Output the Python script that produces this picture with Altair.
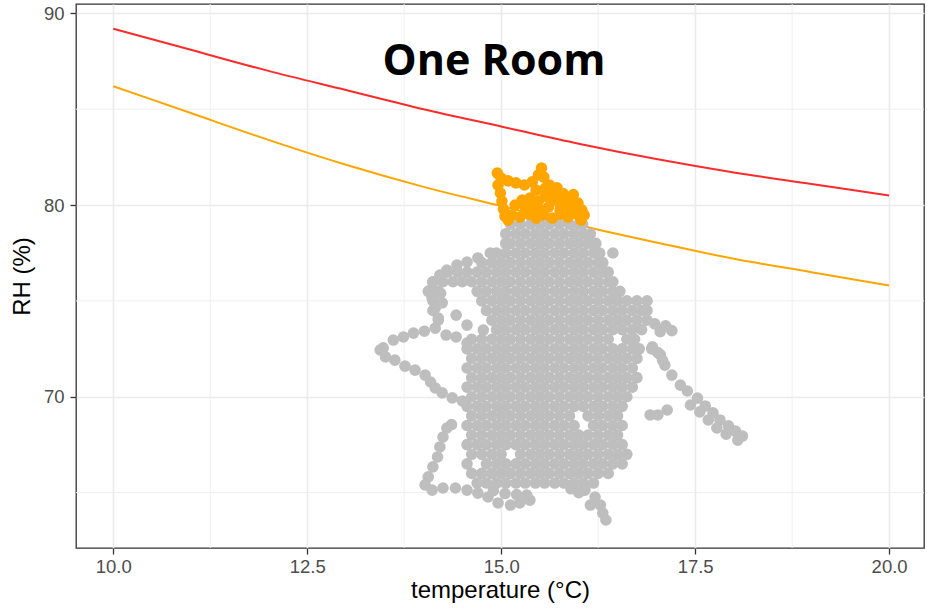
import altair as alt
import pandas as pd

# ---- reference curves ----
curve_temp = [10, 11, 12, 13, 14, 15, 16, 17, 18, 19, 20]
red_rh = [89.2, 88.1, 87.0, 86.0, 85.0, 84.1, 83.2, 82.4, 81.7, 81.1, 80.5]
orange_rh = [86.2, 84.8, 83.4, 82.1, 80.95, 79.95, 78.95, 78.05, 77.2, 76.5, 75.8]

# ---- grey cloud, read row by row ----
row_rh = [79.0, 78.5, 78.0, 77.5, 77.0, 76.5, 76.0, 75.5, 75.0, 74.5, 74.0, 73.5,
          73.0, 72.5, 72.0, 71.5, 71.0, 70.5, 70.0, 69.5, 69.0, 68.5, 68.0, 67.5,
          67.0, 66.5, 66.0, 65.5]
row_temps = [
    [15.12, 15.25, 15.38, 15.50, 15.62, 15.75, 15.88, 16.00, 16.05],
    [15.06, 15.19, 15.31, 15.44, 15.56, 15.69, 15.81, 15.94, 16.06, 16.15],
    [15.06, 15.12, 15.25, 15.38, 15.50, 15.62, 15.75, 15.88, 16.00, 16.12, 16.22],
    [14.94, 15.06, 15.19, 15.31, 15.44, 15.56, 15.69, 15.81, 15.94, 16.06, 16.19, 16.27, 16.44],
    [14.75, 14.88, 15.00, 15.12, 15.25, 15.38, 15.50, 15.62, 15.75, 15.88, 16.00, 16.12, 16.25, 16.31],
    [14.31, 14.44, 14.56, 14.69, 14.81, 14.94, 15.06, 15.19, 15.31, 15.44, 15.56, 15.69, 15.81, 15.94,
     16.06, 16.19, 16.31, 16.38],
    [14.12, 14.25, 14.38, 14.50, 14.62, 14.75, 14.88, 15.00, 15.12, 15.25, 15.38, 15.50, 15.62, 15.75,
     15.88, 16.00, 16.12, 16.25, 16.38, 16.44],
    [14.06, 14.19, 14.69, 14.81, 14.94, 15.06, 15.19, 15.31, 15.44, 15.56, 15.69, 15.81, 15.94, 16.06,
     16.19, 16.31, 16.44, 16.53],
    [14.12, 14.75, 14.88, 15.00, 15.12, 15.25, 15.38, 15.50, 15.62, 15.75, 15.88, 16.00, 16.12, 16.25,
     16.38, 16.50, 16.62, 16.75, 16.88],
    [14.12, 14.81, 14.94, 15.06, 15.19, 15.31, 15.44, 15.56, 15.69, 15.81, 15.94, 16.06, 16.19, 16.31,
     16.44, 16.56, 16.69, 16.81, 16.88],
    [14.19, 14.88, 15.00, 15.12, 15.25, 15.38, 15.50, 15.62, 15.75, 15.88, 16.00, 16.12, 16.25, 16.38,
     16.50, 16.62, 16.75, 16.88],
    [14.94, 15.06, 15.19, 15.31, 15.44, 15.56, 15.69, 15.81, 15.94, 16.06, 16.19, 16.31, 16.44, 16.56,
     16.69, 16.81],
    [14.62, 14.75, 14.88, 15.00, 15.12, 15.25, 15.38, 15.50, 15.62, 15.75, 15.88, 16.00, 16.12, 16.25,
     16.38, 16.62, 16.72],
    [14.56, 14.69, 14.81, 14.94, 15.06, 15.19, 15.31, 15.44, 15.56, 15.69, 15.81, 15.94, 16.06, 16.19,
     16.31, 16.44, 16.56, 16.69, 16.78],
    [14.62, 14.75, 14.88, 15.00, 15.12, 15.25, 15.38, 15.50, 15.62, 15.75, 15.88, 16.00, 16.12, 16.25,
     16.38, 16.50, 16.62, 16.75],
    [14.56, 14.69, 14.81, 14.94, 15.06, 15.19, 15.31, 15.44, 15.56, 15.69, 15.81, 15.94, 16.06, 16.19,
     16.31, 16.44, 16.56, 16.69],
    [14.62, 14.75, 14.88, 15.00, 15.12, 15.25, 15.38, 15.50, 15.62, 15.75, 15.88, 16.00, 16.12, 16.25,
     16.38, 16.50, 16.62, 16.75],
    [14.56, 14.69, 14.81, 14.94, 15.06, 15.19, 15.31, 15.44, 15.56, 15.69, 15.81, 15.94, 16.06, 16.19,
     16.31, 16.44, 16.56, 16.69],
    [14.62, 14.75, 14.88, 15.00, 15.12, 15.25, 15.38, 15.50, 15.62, 15.75, 15.88, 16.00, 16.12, 16.25,
     16.38, 16.50, 16.62],
    [14.56, 14.69, 14.81, 14.94, 15.06, 15.19, 15.31, 15.44, 15.56, 15.69, 15.81, 15.94, 16.06, 16.19,
     16.31, 16.44, 16.56],
    [14.62, 14.75, 14.88, 15.00, 15.12, 15.25, 15.38, 15.50, 15.62, 15.75, 15.88, 16.12, 16.25,
     16.38, 16.50],
    [14.56, 14.69, 14.81, 14.94, 15.06, 15.19, 15.31, 15.44, 15.56, 15.69, 15.81, 15.94, 16.19,
     16.31, 16.44, 16.56],
    [14.62, 14.75, 14.88, 15.00, 15.12, 15.25, 15.38, 15.50, 15.62, 15.75, 15.88, 16.00, 16.12, 16.25,
     16.38, 16.50],
    [14.56, 14.69, 14.81, 14.94, 15.06, 15.19, 15.31, 15.44, 15.56, 15.69, 15.81, 15.94, 16.06, 16.19,
     16.31, 16.44, 16.56],
    [14.62, 14.75, 14.88, 15.00, 15.25, 15.38, 15.50, 15.62, 15.75, 15.88, 16.00, 16.12, 16.25,
     16.38, 16.50, 16.62],
    [14.56, 14.81, 14.94, 15.06, 15.19, 15.31, 15.44, 15.56, 15.69, 15.81, 15.94, 16.06, 16.19,
     16.31, 16.44, 16.56],
    [14.62, 14.75, 14.88, 15.00, 15.12, 15.25, 15.38, 15.50, 15.62, 15.75, 15.88, 16.00, 16.12, 16.25,
     16.38],
    [14.69, 14.81, 14.94, 15.06, 15.19, 15.31, 15.44, 15.56, 15.69, 15.81, 15.94, 16.06, 16.19],
]

# grey outline paths: hook, loop, left arm, right tail, bottom edge
edge_temp = [14.86, 14.70, 14.56, 14.43, 14.30, 14.21, 14.12, 14.09, 14.11, 14.15, 14.19, 14.22, 14.24,
             14.15, 14.01, 13.87, 13.74, 13.61, 13.48, 13.44, 13.51, 13.63, 13.76, 13.89, 14.02, 14.09,
             14.15, 14.24, 14.37, 14.50, 14.29, 14.42, 14.56, 14.42, 14.56, 14.77,
             16.98, 17.12, 17.20, 17.05, 16.95, 17.05, 17.08, 16.94, 17.02,
             17.11, 17.20, 17.31, 17.40, 17.53, 17.63, 17.73, 17.82, 17.93, 18.02, 18.11, 18.05,
             17.44, 17.56, 17.67, 17.78, 17.90, 16.92, 17.02, 17.14,
             14.36, 14.30, 14.25, 14.21, 14.18, 14.12, 14.06, 14.02, 14.11, 14.25, 14.41, 14.56, 14.70,
             14.83, 14.96, 15.12, 15.24, 15.37, 15.33, 15.20, 15.05, 14.90,
             16.08, 16.21, 16.28, 16.31, 16.35, 16.15, 16.00, 15.90]
edge_rh = [77.50, 77.24, 77.03, 76.87, 76.61, 76.35, 75.98, 75.56, 75.15, 74.63, 74.10, 75.40, 74.90,
           73.58, 73.42, 73.32, 73.12, 72.96, 72.55, 72.44, 72.08, 71.91, 71.60, 71.39, 71.13, 70.77,
           70.46, 70.20, 69.94, 69.78, 73.22, 73.12, 72.80, 74.26, 73.74, 73.48,
           73.80, 73.70, 73.45, 73.40, 72.60, 72.20, 71.90, 72.50, 72.30,
           71.65, 71.13, 70.61, 70.30, 69.93, 69.52, 69.16, 68.79, 68.48, 68.21, 67.95, 67.74,
           69.57, 69.21, 68.79, 68.37, 68.05, 69.05, 69.05, 69.31,
           68.55, 68.37, 67.90, 67.38, 66.86, 66.34, 65.82, 65.40, 65.13, 65.24, 65.24, 65.13, 64.97,
           64.77, 64.46, 64.35, 64.46, 64.61, 64.87, 64.90, 64.95, 65.10,
           65.13, 64.77, 64.35, 63.93, 63.57, 64.35, 65.00, 65.20]

# orange (above-threshold) points
hot_temp = [14.95, 15.00, 14.96, 14.99, 15.01, 15.03, 15.05, 15.09,
            15.09, 15.19, 15.30, 15.40, 15.48, 15.52, 15.55, 15.62, 15.67,
            15.18, 15.27, 15.37, 15.48, 15.57, 15.66, 15.76, 15.85, 15.91, 15.99, 16.04, 16.07,
            15.14, 15.24, 15.35, 15.45, 15.55, 15.66, 15.76, 15.86, 15.97, 16.03,
            15.45, 15.57, 15.71, 15.61, 15.50, 15.40, 15.76, 15.89,
            15.72, 15.80, 15.93, 15.30, 15.40, 15.95]
hot_rh = [81.67, 81.41, 81.04, 80.63, 80.21, 79.79, 79.42, 79.22,
          81.26, 81.16, 81.05, 81.21, 81.57, 81.93, 81.46, 81.05, 80.78,
          80.00, 80.26, 80.37, 80.21, 80.47, 80.26, 80.05, 80.26, 80.42, 80.10, 79.74, 79.48,
          79.48, 79.37, 79.53, 79.32, 79.48, 79.32, 79.53, 79.37, 79.53, 79.22,
          80.78, 80.89, 80.42, 79.90, 79.74, 79.84, 79.74, 79.84,
          80.90, 80.60, 80.55, 79.95, 80.10, 79.90]

x_major = [10, 12.5, 15, 17.5, 20]
x_minor = [11.25, 13.75, 16.25, 18.75]
y_major = [70, 80, 90]
y_minor = [65, 75, 85]

# ---- tables ----
g_t, g_r = [], []
for rh, temps in zip(row_rh, row_temps):
    for t in temps:
        g_t.append(t)
        g_r.append(rh)
g_t += edge_temp
g_r += edge_rh
grey_df = pd.DataFrame({"temp": g_t, "rh": g_r})
hot_df = pd.DataFrame({"temp": hot_temp, "rh": hot_rh})
red_df = pd.DataFrame({"temp": curve_temp, "rh": red_rh})
org_df = pd.DataFrame({"temp": curve_temp, "rh": orange_rh})

FONT = "Liberation Sans"
xs = alt.Scale(domain=[9.52, 20.45], nice=False, zero=False)
ys = alt.Scale(domain=[62.11, 90.49], nice=False, zero=False)

X = alt.X("temp:Q", scale=xs, title="temperature (°C)",
          axis=alt.Axis(values=x_major, format=".1f", grid=True, labelPadding=3, titlePadding=3))
Y = alt.Y("rh:Q", scale=ys, title="RH (%)",
          axis=alt.Axis(values=y_major, format="d", grid=True, labelPadding=6, titlePadding=9))

minor_x = alt.Chart(pd.DataFrame({"temp": x_minor})).mark_rule(
    color="#EFEFEF", strokeWidth=1).encode(x=alt.X("temp:Q", scale=xs))
minor_y = alt.Chart(pd.DataFrame({"rh": y_minor})).mark_rule(
    color="#EFEFEF", strokeWidth=1).encode(y=alt.Y("rh:Q", scale=ys))

red_line = alt.Chart(red_df).mark_line(color="#FF2B2B", strokeWidth=2, interpolate="monotone").encode(x=X, y=Y)
org_line = alt.Chart(org_df).mark_line(color="#FFA500", strokeWidth=2, interpolate="monotone").encode(x=X, y=Y)

grey_pts = alt.Chart(grey_df).mark_circle(color="#BEBEBE", opacity=1, size=135).encode(x=X, y=Y)
hot_pts = alt.Chart(hot_df).mark_circle(color="#FFA500", opacity=1, size=135).encode(x=X, y=Y)

label = alt.Chart(pd.DataFrame({"label": ["One Room"]})).mark_text(
    font="Open Sans", fontWeight="bold", fontSize=43, color="black",
    align="center", baseline="alphabetic").encode(
    text="label:N", x=alt.value(418), y=alt.value(71))

chart = alt.layer(minor_x, minor_y, red_line, org_line, grey_pts, hot_pts, label).properties(
    width=848, height=544,
    autosize=alt.AutoSizeParams(type="none"),
    padding={"left": 76, "top": 4, "right": 3, "bottom": 60},
).configure_view(
    stroke="#333333", strokeWidth=1.3
).configure_axis(
    domain=False,
    gridColor="#EBEBEB", gridWidth=1.6,
    tickColor="#333333", tickSize=6, tickWidth=1.3,
    labelFont=FONT, labelFontSize=18.5, labelColor="#4D4D4D",
    titleFont=FONT, titleFontSize=24, titleFontWeight="normal", titleColor="black",
)

chart.save("out.html", embed_options={"renderer": "svg", "actions": False})
